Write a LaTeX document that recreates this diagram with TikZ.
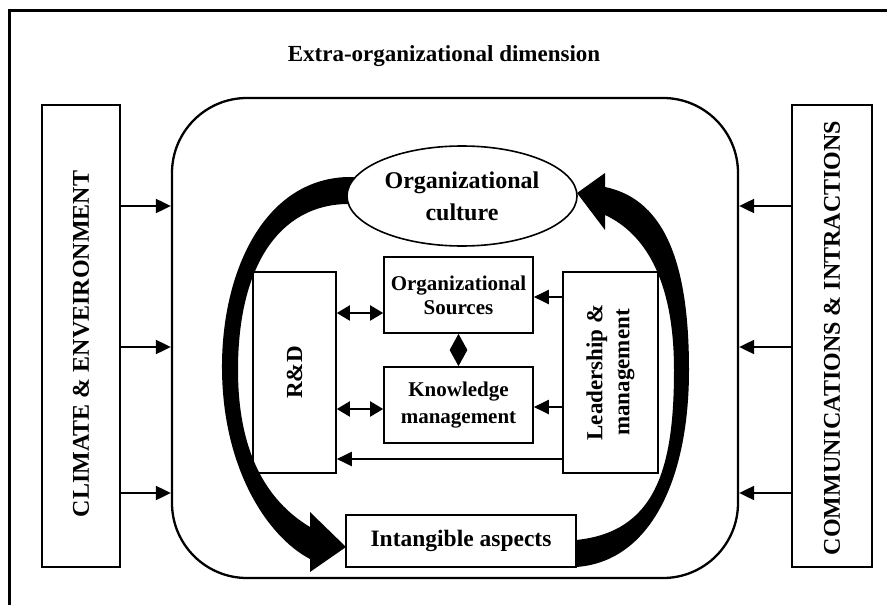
\documentclass[tikz,border=0pt]{standalone}
\usepackage{fontspec}
\setmainfont{Liberation Serif}
\usepackage{graphicx}
\usetikzlibrary{arrows.meta,shapes.geometric}
\begin{document}
\begin{tikzpicture}[x=1pt,y=-1pt,
  box/.style={draw,line width=1.6pt,inner sep=0pt,fill=white},
  big/.style={font=\fontsize{23}{27}\selectfont\bfseries},
  side/.style={font=\fontsize{24}{28}\selectfont\bfseries},
  small/.style={font=\fontsize{21}{24}\selectfont\bfseries},
  feed/.style={line width=2pt,-{Triangle[length=15pt,width=14pt]}},
  link/.style={line width=2pt,{Triangle[length=13pt,width=15pt]}-{Triangle[length=13pt,width=15pt]}},
  vlink/.style={line width=2pt,{Triangle[length=16pt,width=17pt]}-{Triangle[length=16pt,width=17pt]}},
  band/.style={fill=black,draw=none}]

% page and outer frame
\clip (0,0) rectangle (887,605);
\fill[white] (0,0) rectangle (887,605);
\draw[line width=2.3pt] (9.5,10.5) rectangle (1000,700);

\node[big] (title) at (444,56) {Extra-organizational dimension};

% external dimensions
\node[box,minimum width=78pt,minimum height=462pt,side] (climate) at (81,336)
  {\rotatebox{90}{CLIMATE \& ENVEIRONMENT\hspace*{16pt}}};
\node[box,minimum width=80pt,minimum height=462pt,side] (comm) at (832,336)
  {\rotatebox{90}{COMMUNICATIONS \& INTRACTIONS\hspace*{4pt}}};

% organization
\node[draw,line width=2.3pt,rounded corners=75pt,minimum width=566pt,
      minimum height=480pt] (org) at (455,338) {};

\coordinate (f1) at (0,206);
\coordinate (f2) at (0,347);
\coordinate (f3) at (0,493);
\foreach \r in {f1,f2,f3} {
  \draw[feed] (climate.east |- \r) -- (org.west |- \r);
  \draw[feed] (comm.west |- \r) -- (org.east |- \r);
}

% inner components
\node[box,minimum width=149pt,minimum height=76pt,small,align=center] (sources)
  at (458.5,295) {Organizational\\Sources};
\node[box,minimum width=149pt,minimum height=76pt,align=center,
      font=\fontsize{21}{27}\selectfont\bfseries] (knowledge)
  at (458.5,405) {Knowledge\\management};
\node[box,minimum width=83pt,minimum height=201pt,big] (rnd) at (294.5,372.5)
  {\rotatebox{90}{R\&D}};
\node[box,minimum width=95pt,minimum height=201pt,big] (lead) at (610.5,372.5)
  {\rotatebox{90}{\begin{tabular}{@{}c@{}}Leadership \&\\management\end{tabular}}};

\coordinate (l1) at (0,313);
\coordinate (l2) at (0,409);
\coordinate (l3) at (0,297);
\coordinate (l4) at (0,407);
\coordinate (l5) at (0,459);
\draw[link] (rnd.east |- l1) -- (sources.west |- l1);
\draw[link] (rnd.east |- l2) -- (knowledge.west |- l2);
\draw[vlink] (sources.south) -- (knowledge.north);
\draw[feed] (lead.west |- l3) -- (sources.east |- l3);
\draw[feed] (lead.west |- l4) -- (knowledge.east |- l4);
\draw[feed] (lead.west |- l5) -- (rnd.east |- l5);

% the two sweeping cycle arrows
\fill[band] (362,177) -- (347,177) .. controls (262,180) and (221,275) .. (222,370)
  .. controls (223,470) and (268,537) .. (310,559) -- (310,572) -- (346,547)
  -- (310,512) -- (310,527) .. controls (265,500) and (238,450) .. (238,370)
  .. controls (238,265) and (280,205) .. (347,204) -- (362,204) -- cycle;
\fill[band] (563,567) -- (576,567) .. controls (650,562) and (689,480) .. (689,370)
  .. controls (689,270) and (668,200) .. (605,187) -- (605,173) -- (577,193)
  -- (605,230) -- (605,215) .. controls (648,235) and (674,285) .. (674,370)
  .. controls (674,470) and (655,532) .. (576,540) -- (563,540) -- cycle;

\node[draw,ellipse,line width=1.6pt,fill=white,minimum width=230pt,
      minimum height=100pt,inner sep=0pt,align=center,
      font=\fontsize{24}{32}\selectfont\bfseries] (culture) at (462,196)
  {Organizational\\culture};
\node[box,minimum width=230pt,minimum height=52pt,
      font=\fontsize{23.5}{27}\selectfont\bfseries] (intangible) at (461,541)
  {Intangible aspects};
\end{tikzpicture}
\end{document}
